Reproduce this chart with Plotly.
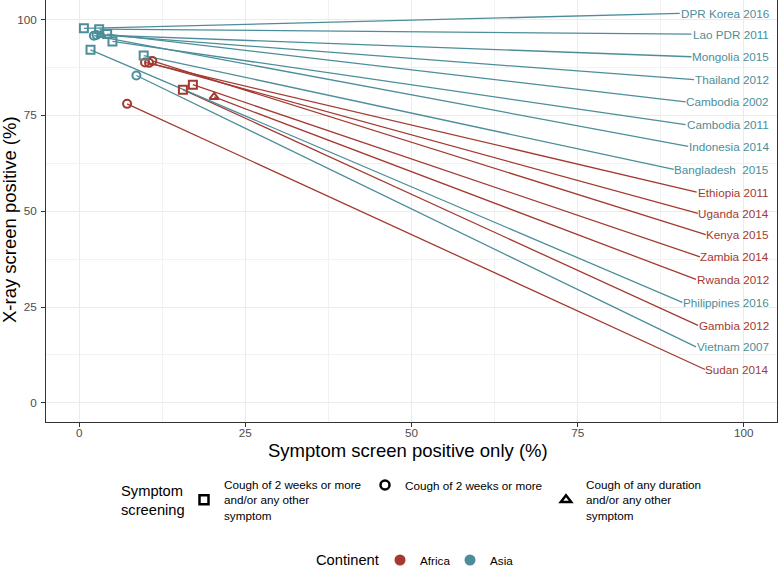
import plotly.graph_objects as go

# one row per survey, ordered as the repelled labels appear (top to bottom)
countries = [
    "DPR Korea 2016", "Lao PDR 2011", "Mongolia 2015", "Thailand 2012",
    "Cambodia 2002", "Cambodia 2011", "Indonesia 2014", "Bangladesh\u00a0 2015",
    "Ethiopia 2011", "Uganda 2014", "Kenya 2015", "Zambia 2014", "Rwanda 2012",
    "Philippines 2016", "Gambia 2012", "Vietnam 2007", "Sudan 2014",
]
continent = [
    "Asia", "Asia", "Asia", "Asia", "Asia", "Asia", "Asia", "Asia",
    "Africa", "Africa", "Africa", "Africa", "Africa",
    "Asia", "Africa", "Asia", "Africa",
]
screening = [
    "sq", "sq", "ci", "tr", "sq", "sq", "ci", "sq",
    "ci", "ci", "ci", "sq", "tr",
    "sq", "sq", "ci", "ci",
]
symptom_only = [0.7, 3.0, 2.6, 3.3, 4.2, 5.0, 2.2, 9.7,
                9.9, 10.5, 11.0, 17.1, 20.3,
                1.7, 15.6, 8.6, 7.2]
xray_positive = [97.7, 97.5, 96.0, 96.0, 96.2, 94.3, 95.8, 90.6,
                 88.8, 88.7, 89.2, 83.0, 79.8,
                 92.1, 81.7, 85.4, 78.0]
label_y = [101.6, 96.2, 90.3, 84.3, 78.5, 72.6, 66.9, 60.9,
           55.0, 49.4, 43.9, 38.1, 32.2,
           26.2, 20.2, 14.6, 8.7]

screening_names = {
    "sq": "Cough of 2 weeks or more<br>and/or any other<br>symptom",
    "ci": "Cough of 2 weeks or more",
    "tr": "Cough of any duration<br>and/or any other<br>symptom",
}
SYMBOLS = {"sq": "square-open", "ci": "circle-open", "tr": "triangle-up-open"}
COLORS = {"Africa": "#A33A31", "Asia": "#4B8E9A"}
FONT = "Liberation Sans, Arial, sans-serif"

# plot geometry (px) so label boxes can be measured like ggrepel does
W, H = 779, 567
M = dict(l=46, r=2, t=0, b=145, autoexpand=False)
X_RANGE = [-5, 105]
Y_RANGE = [-5, 105.1]
PLOT_W = W - M["l"] - M["r"]
PLOT_H = H - M["t"] - M["b"]
PX_PER_X = PLOT_W / (X_RANGE[1] - X_RANGE[0])
LABEL_RIGHT = 103.9
LABEL_SIZE = 11.7

# Arial / Liberation Sans advance widths (1/1000 em)
ARIAL = {" ": 278, "\u00a0": 278, "A": 667, "B": 667, "C": 722, "D": 722,
         "E": 667, "G": 778, "I": 278, "K": 667, "L": 556, "M": 833,
         "P": 667, "R": 722, "S": 667, "T": 611, "U": 722, "V": 667,
         "Z": 611, "i": 222, "l": 222, "m": 833, "r": 333, "s": 500,
         "t": 278, "w": 722, "y": 500}


def label_left(text):
    width_px = sum(ARIAL.get(c, 556) for c in text) / 1000 * LABEL_SIZE
    return LABEL_RIGHT - (width_px + 1.5) / PX_PER_X


def px_to_paper_x(px):
    return (px - M["l"]) / PLOT_W


def px_to_paper_y(py):
    return (H - M["b"] - py) / PLOT_H


fig = go.Figure()

# connector segments
for cont in ["Africa", "Asia"]:
    xs, ys = [], []
    for i, c in enumerate(countries):
        if continent[i] != cont:
            continue
        xs += [symptom_only[i], label_left(c), None]
        ys += [xray_positive[i], label_y[i], None]
    fig.add_trace(go.Scatter(
        x=xs, y=ys, mode="lines", showlegend=False, hoverinfo="skip",
        line=dict(color=COLORS[cont], width=1.3),
    ))

# points
for cont in ["Africa", "Asia"]:
    for key in ["sq", "ci", "tr"]:
        idx = [i for i in range(len(countries))
               if continent[i] == cont and screening[i] == key]
        if not idx:
            continue
        fig.add_trace(go.Scatter(
            x=[symptom_only[i] for i in idx],
            y=[xray_positive[i] for i in idx],
            mode="markers", showlegend=False,
            marker=dict(symbol=SYMBOLS[key], size=8, color=COLORS[cont],
                        line=dict(width=2, color=COLORS[cont])),
        ))

# labels
for i, c in enumerate(countries):
    fig.add_annotation(
        x=LABEL_RIGHT, y=label_y[i], text=c, showarrow=False,
        xanchor="right", yanchor="middle", borderpad=0,
        font=dict(family=FONT, size=LABEL_SIZE, color=COLORS[continent[i]]),
    )

# legend entries: symptom screening
for key in ["sq", "ci", "tr"]:
    fig.add_trace(go.Scatter(
        x=[None], y=[None], mode="markers", name=screening_names[key],
        legend="legend",
        marker=dict(symbol=SYMBOLS[key], size=9, color="black",
                    line=dict(width=2.5, color="black")),
    ))

# legend entries: continent
for cont in ["Africa", "Asia"]:
    fig.add_trace(go.Scatter(
        x=[None], y=[None], mode="markers", name=cont, legend="legend2",
        marker=dict(symbol="circle", size=11, color=COLORS[cont]),
    ))

# legend titles (kept beside the keys, ggplot style)
fig.add_annotation(
    text="Symptom<br>screening", xref="paper", yref="paper",
    x=px_to_paper_x(119), y=px_to_paper_y(500), xanchor="left",
    yanchor="middle", align="left", showarrow=False,
    font=dict(family=FONT, size=14.7, color="black"),
)
fig.add_annotation(
    text="Continent", xref="paper", yref="paper",
    x=px_to_paper_x(314), y=px_to_paper_y(560), xanchor="left",
    yanchor="middle", showarrow=False,
    font=dict(family=FONT, size=14.7, color="black"),
)

# axis titles
fig.add_annotation(
    text="Symptom screen positive only (%)", xref="paper", yref="paper",
    x=px_to_paper_x(408), y=px_to_paper_y(450), xanchor="center",
    yanchor="middle", showarrow=False,
    font=dict(family=FONT, size=18.5, color="black"),
)
fig.add_annotation(
    text="X-ray screen positive (%)", xref="paper", yref="paper",
    x=px_to_paper_x(9), y=px_to_paper_y(220), xanchor="center",
    yanchor="middle", textangle=-90, showarrow=False,
    font=dict(family=FONT, size=18.5, color="black"),
)

axis_common = dict(
    tickvals=[0, 25, 50, 75, 100],
    showgrid=True, gridcolor="#EBEBEB", gridwidth=1.1,
    minor=dict(tickvals=[12.5, 37.5, 62.5, 87.5], showgrid=True,
               gridcolor="#F2F2F2", gridwidth=0.6, ticks=""),
    zeroline=False, showline=True, linecolor="#333333", linewidth=1,
    ticks="outside", ticklen=4, tickwidth=1, tickcolor="#333333",
    tickfont=dict(family=FONT, size=11.7, color="#4D4D4D"),
    automargin=False,
)

fig.update_layout(
    width=W, height=H, margin=M,
    paper_bgcolor="white", plot_bgcolor="white",
    font=dict(family=FONT, color="black"),
    xaxis=dict(axis_common, range=X_RANGE, ticklabelstandoff=-4),
    yaxis=dict(axis_common, range=Y_RANGE, mirror=True, ticklabelstandoff=2),
    legend=dict(
        orientation="h", x=px_to_paper_x(184), xanchor="left",
        y=px_to_paper_y(500), yanchor="middle", entrywidth=136,
        font=dict(size=11.7), bgcolor="rgba(0,0,0,0)",
    ),
    legend2=dict(
        orientation="h", x=px_to_paper_x(380), xanchor="left",
        y=px_to_paper_y(560), yanchor="middle", entrywidth=25,
        font=dict(size=11.7), bgcolor="rgba(0,0,0,0)",
    ),
)

fig.write_html("out.html", config={"displayModeBar": False},
               post_script="document.body.style.margin='0';")
